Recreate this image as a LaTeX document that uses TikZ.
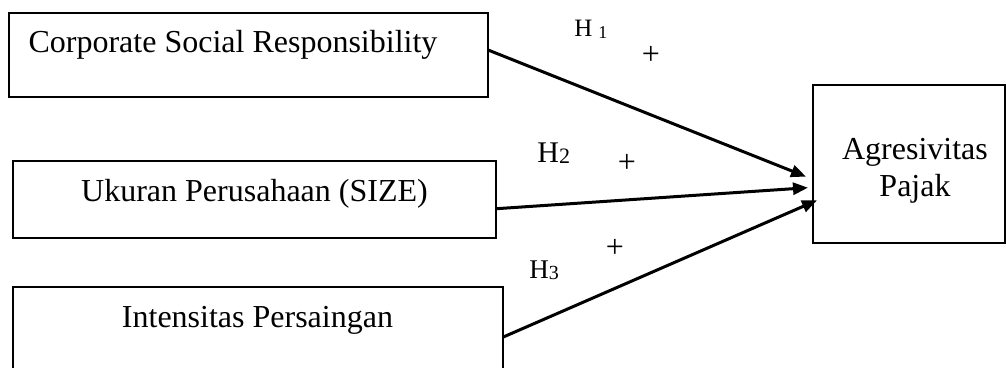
\documentclass[tikz,border=0pt]{standalone}
\usepackage{fontspec}
\setmainfont{Liberation Serif}
\usetikzlibrary{arrows.meta,calc}
\begin{document}
\begin{tikzpicture}[x=0.5pt,y=-0.5pt,
  box/.style={draw,line width=1pt,rectangle,inner sep=0pt,outer sep=0pt},
  lbl/.style={font=\fontsize{16}{18.5}\selectfont,inner sep=0pt,anchor=base},
  plus/.style={font=\fontsize{16}{18}\selectfont,inner sep=0pt,anchor=center},
  hyp/.style={inner sep=0pt,anchor=base west},
  conn/.style={line width=1.5pt,-{Triangle[length=7.5pt,width=6pt]}}]
\useasboundingbox (0,0) rectangle (1006,368);
\clip (0,0) rectangle (1006,368);
% boxes
\node[box,minimum width=239.5pt,minimum height=42pt] (csr) at (248.5,55) {};
\node[box,minimum width=241.5pt,minimum height=38.5pt] (size) at (254.5,199.5) {};
\node[box,minimum width=245pt,minimum height=42.5pt] (ip) at (258,329.5) {};
\node[box,minimum width=96pt,minimum height=79pt] (agr) at (909,164) {};
% texts
\node[lbl] (tcsr) at (233,53) {Corporate Social Responsibility};
\node[lbl] (tsize) at (254.5,202) {Ukuran Perusahaan (SIZE)};
\node[lbl] (tip) at (257.5,328) {Intensitas Persaingan};
\node[lbl] (tagr1) at (915,160) {Agresivitas};
\node[lbl] (tagr2) at (915,197) {Pajak};
% connectors
\draw[conn] ($(csr.north east)!0.44!(csr.south east)$) -- ($(agr.north west)!0.58!(agr.south west)+(-7,0)$);
\draw[conn] ($(size.north east)!0.62!(size.south east)$) -- ($(agr.north west)!0.65!(agr.south west)+(-5,0)$);
\draw[conn] ($(ip.north east)!0.59!(ip.south east)$) -- ($(agr.north west)!0.73!(agr.south west)+(4,0)$);
% hypothesis labels
\node[hyp] (h1) at (574,37) {\fontsize{12.5}{14}\selectfont H\hspace{3pt}\raisebox{-1pt}{\fontsize{9}{10}\selectfont 1}};
\node[hyp] (h2) at (537,163) {\fontsize{15}{17}\selectfont H\raisebox{-0.5pt}{\fontsize{11}{12}\selectfont 2}};
\node[hyp] (h3) at (529,279) {\fontsize{13.5}{15}\selectfont H\raisebox{-0.5pt}{\fontsize{10}{11}\selectfont 3}};
\node[plus] (p1) at (651,55) {+};
\node[plus] (p2) at (627,163) {+};
\node[plus] (p3) at (615,248) {+};
\end{tikzpicture}
\end{document}
